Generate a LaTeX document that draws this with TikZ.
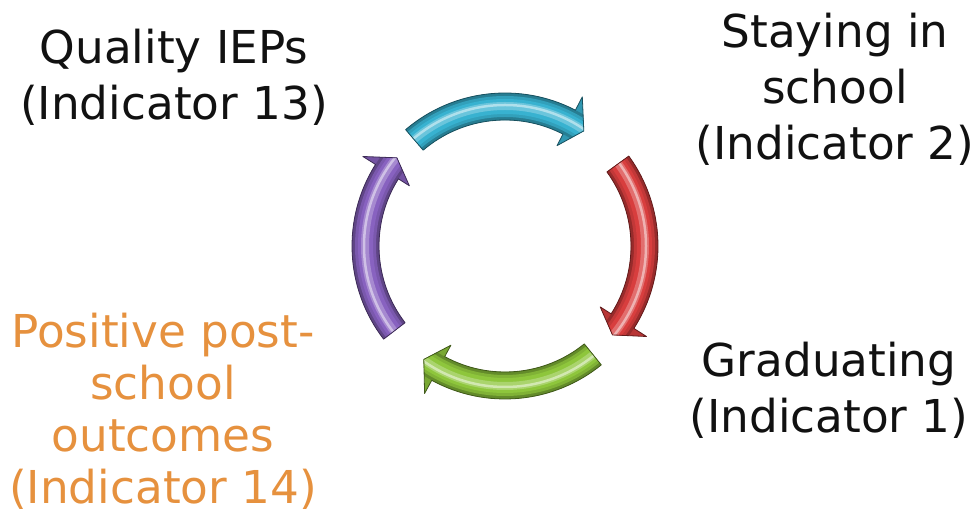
\documentclass[tikz,border=0pt]{standalone}
\usepackage{fontspec}
\setmainfont{DejaVu Sans}
\definecolor{txtorange}{RGB}{230,145,62}
\definecolor{txtdark}{RGB}{17,17,17}
\definecolor{cyanarrow}{RGB}{56,178,208}
\definecolor{redarrow}{RGB}{216,62,62}
\definecolor{greenarrow}{RGB}{142,198,60}
\definecolor{purplearrow}{RGB}{136,98,192}
\newcommand\cycshape[2]{(#1:153pt) arc[start angle=#1, end angle={#2+7}, radius=153pt] -- ({#2+7}:168pt) -- (#2:139.5pt) -- ({#2+7}:113pt) -- ({#2+7}:126pt) arc[start angle={#2+7}, end angle=#1, radius=126pt] -- cycle}
\newcommand\cycarrow[3]{%
  \begin{scope}
    \clip \cycshape{#1}{#2};
    \fill[#3!85!black] (0,0) circle (175pt);
    \draw[#3!70!black, line width=27pt] (0,0) circle (139.5pt);
    \draw[#3!90!black, line width=21pt] (0,0) circle (139.5pt);
    \draw[#3, line width=15pt] (0,0) circle (139.5pt);
    \draw[#3!75!white, line width=8pt] (0,0) circle (140pt);
    \draw[#3!40!white, line width=2.5pt] (0,0) circle (141pt);
  \end{scope}
  \draw[#3!45!black, line width=0.8pt, line join=round] \cycshape{#1}{#2};
}
\tikzset{
  lbl/.style={font=\fontsize{45.3}{56}\selectfont, align=center, anchor=base, inner sep=0pt, text=txtdark},
  lblo/.style={font=\fontsize{45.3}{52}\selectfont, align=center, anchor=base, inner sep=0pt, text=txtorange}
}
\begin{document}
\begin{tikzpicture}[x=1pt, y=1pt]
  \useasboundingbox (0,0) rectangle (977,519);
  \fill[white] (0,0) rectangle (977,519);
  \begin{scope}[shift={(505,273)}]
    \cycarrow{130.5}{55.6}{cyanarrow}
    \cycarrow{36}{-39.6}{redarrow}
    \cycarrow{-51}{-125.6}{greenarrow}
    \cycarrow{217.5}{140.8}{purplearrow}
  \end{scope}
  \node[lbl] (iep) at (174,399) {Quality IEPs\\(Indicator 13)};
  \node[lbl] (stay) at (835,359) {Staying in\\school\\(Indicator 2)};
  \node[lbl] (grad) at (829,86) {Graduating\\(Indicator 1)};
  \node[lblo] (post) at (163,15) {Positive post-\\school\\outcomes\\(Indicator 14)};
\end{tikzpicture}
\end{document}
